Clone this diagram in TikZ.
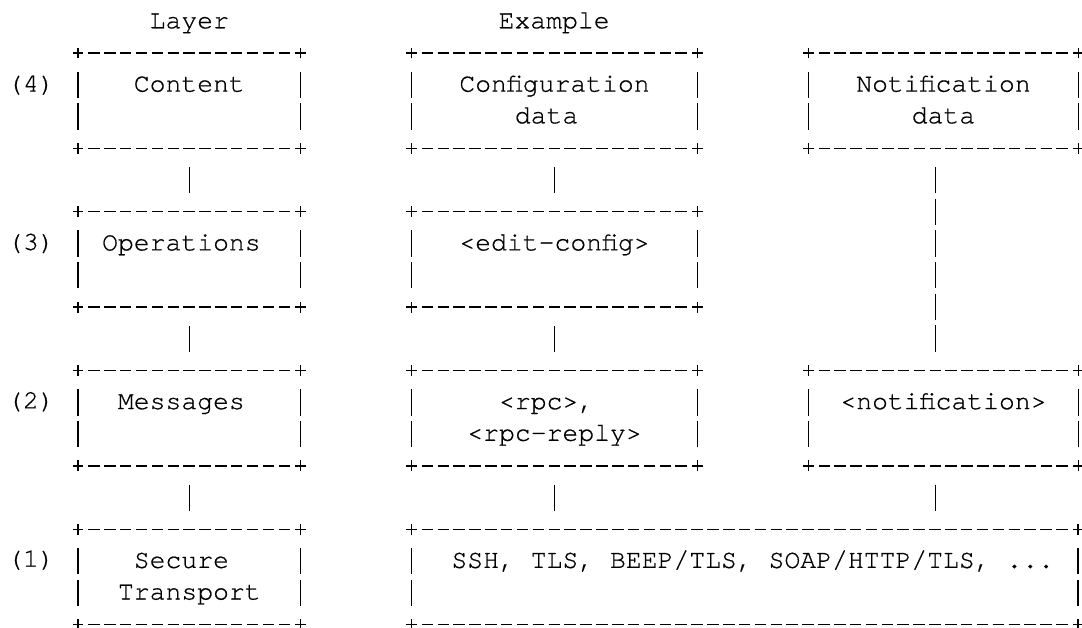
\documentclass[tikz,border=0pt]{standalone}
\usepackage{fontspec}
\setmonofont{texgyrecursor}[Extension=.otf, UprightFont=*-regular, BoldFont=*-bold, FakeBold=0.6]
\usetikzlibrary{positioning}

\newcommand\colw{15.86pt}
\newcommand\rowh{31.67pt}

\begin{document}
\frenchspacing
\begin{tikzpicture}[
  x=15.86pt, y=-31.67pt,
  font=\ttfamily\fontsize{26.43pt}{31.67pt}\selectfont,
  node distance=63.34pt and 111.02pt,
  frame/.style={rectangle, inner sep=0pt, minimum width=#1*\colw,
                minimum height=3*\rowh},
  lbl/.style={inner sep=0pt, align=center, anchor=north},
  side/.style={inner sep=0pt, anchor=base west},
  head/.style={inner sep=0pt, anchor=base},
  hdash/.style={line width=1.3pt, dash pattern=on 11.5pt off 4.36pt},
  vdash/.style={line width=1.3pt, dash pattern=on 26.43pt off 5.24pt},
  plus/.style={line width=1.3pt},
]
  \useasboundingbox (3.5624,-0.8936) rectangle (71.785,18.936);

  \node[frame=14] (content) at (15.5,2.2855) {};
  \node[frame=18, right=of content] (config) {};
  \node[frame=17, right=of config] (notif) {};
  \node[frame=14, below=of content] (ops) {};
  \node[frame=18, below=of config] (edit) {};
  \node[frame=14, below=of ops] (msgs) {};
  \node[frame=18, below=of edit] (rpc) {};
  \node[frame=17, right=of rpc] (notifmsg) {};
  \node[frame=14, below=of msgs] (transport) {};
  \node[frame=42, right=of transport] (protos) {};

  \foreach \b in {content,config,notif,ops,edit,msgs,rpc,notifmsg,transport,protos}{
    \draw[hdash] ([xshift=10.11pt]\b.north west) -- ([xshift=-10.11pt]\b.north east);
    \draw[hdash] ([xshift=10.11pt]\b.south west) -- ([xshift=-10.11pt]\b.south east);
    \draw[vdash] ([yshift=-18.64pt]\b.north west) -- ([yshift=18.27pt]\b.south west);
    \draw[vdash] ([yshift=-18.64pt]\b.north east) -- ([yshift=18.27pt]\b.south east);
    \foreach \a in {north west,north east,south west,south east}
      \draw[plus] (\b.\a) +(-5.3pt,0) -- +(5.3pt,0) +(0,-5.4pt) -- +(0,5.4pt);
  }

  \node[head] (layer) at (15.5,0) {Layer};
  \node[head] (example) at (38.5,0) {Example};

  \node[side] (lay4) at (4,2) {(4)};
  \node[side] (lay3) at (4,7) {(3)};
  \node[side] (lay2) at (4,12) {(2)};
  \node[side] (lay1) at (4,17) {(1)};

  \node[lbl, below=16.29pt of content.north] (contentl) {\strut Content};
  \node[lbl, below=16.29pt of config.north] (configl) {\strut Configuration\\data\hphantom{x}};
  \node[lbl, below=16.29pt of notif.north] (notifl) {\strut Notification\\data};
  \node[lbl, below=16.29pt of ops.north] (opsl) {\strut Operations\hphantom{x}};
  \node[lbl, below=16.29pt of edit.north] (editl) {\strut <edit-config>};
  \node[lbl, below=16.29pt of msgs.north] (msgsl) {\strut Messages\hphantom{x}};
  \node[lbl, below=16.29pt of rpc.north] (rpcl) {\strut <rpc>,\hphantom{x}\\<rpc-reply>};
  \node[lbl, below=16.29pt of notifmsg.north] (notifmsgl) {\strut <notification>};
  \node[lbl, below=16.29pt of transport.north] (transportl) {\strut Secure\hphantom{x}\\Transport};
  \node[lbl, below=16.29pt of protos.north] (protosl)
    {\strut\hphantom{x}SSH, TLS, BEEP/TLS, SOAP/HTTP/TLS, ...};

  \draw[vdash] ([yshift=-18.64pt]content.south) -- ([yshift=18.27pt]ops.north);
  \draw[vdash] ([yshift=-18.64pt]ops.south) -- ([yshift=18.27pt]msgs.north);
  \draw[vdash] ([yshift=-18.64pt]msgs.south) -- ([yshift=18.27pt]transport.north);
  \draw[vdash] ([yshift=-18.64pt]config.south) -- ([yshift=18.27pt]edit.north);
  \draw[vdash] ([yshift=-18.64pt]edit.south) -- ([yshift=18.27pt]rpc.north);
  \draw[vdash] ([yshift=-18.64pt]rpc.south) -- ([yshift=18.27pt]rpc.south |- protos.north);
  \draw[vdash] ([xshift=-7.93pt, yshift=-18.64pt]notif.south)
    -- ([xshift=-7.93pt, yshift=18.27pt]notifmsg.north);
  \draw[vdash] ([xshift=-7.93pt, yshift=-18.64pt]notifmsg.south)
    -- ([xshift=-7.93pt, yshift=18.27pt]notifmsg.south |- protos.north);
\end{tikzpicture}
\end{document}
